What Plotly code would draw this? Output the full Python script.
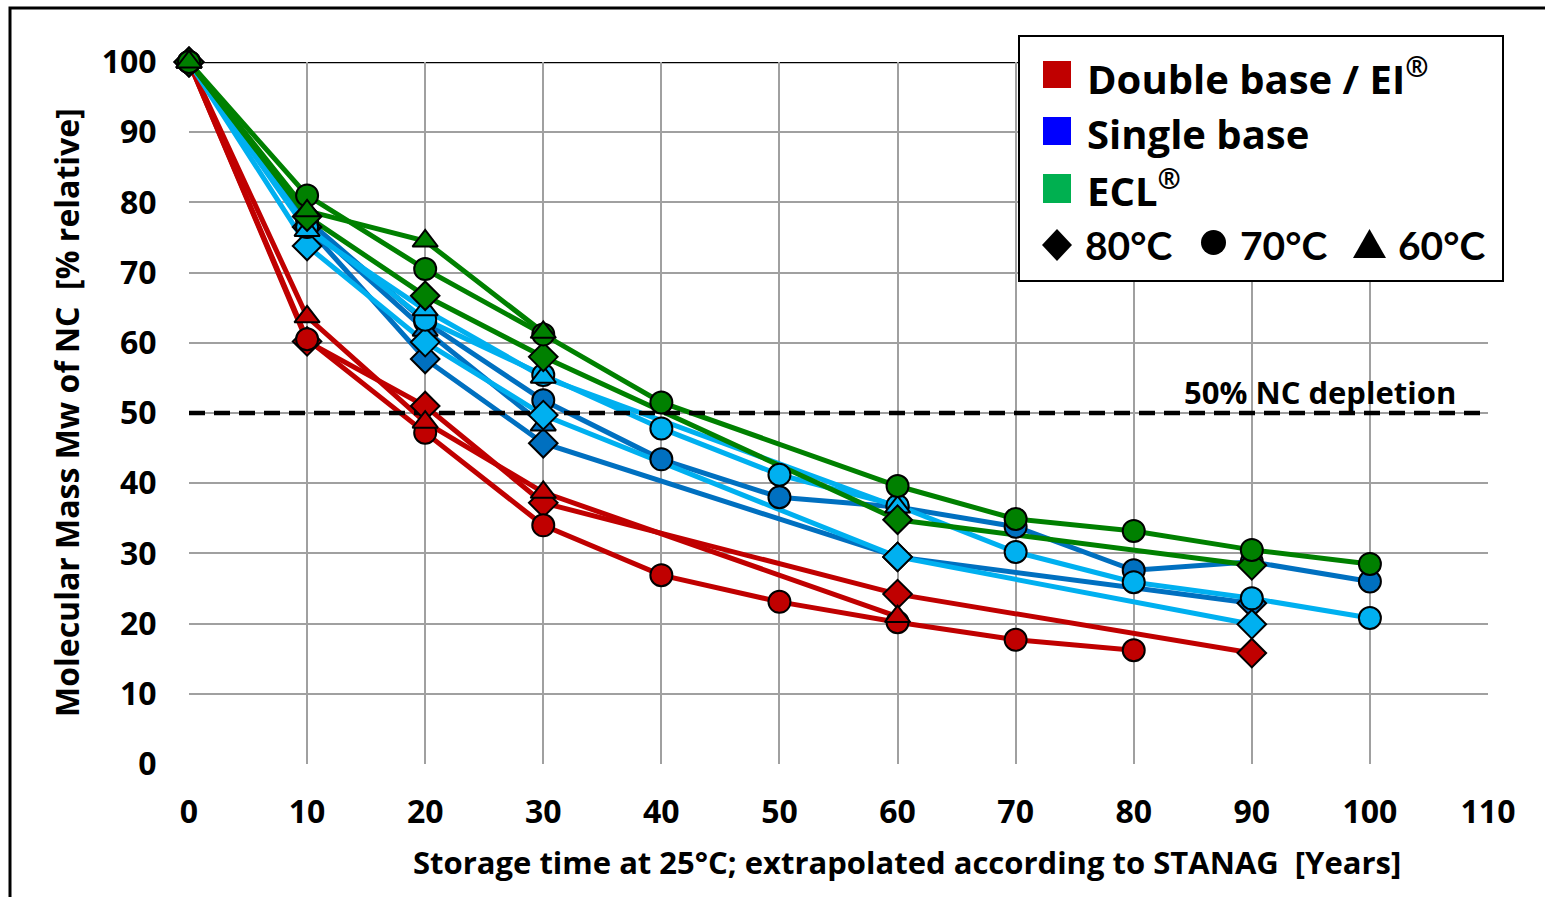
import plotly.graph_objects as go

# ---------------- data ----------------
red_diamond_x = [0, 10, 20, 30, 60, 90]
red_diamond_y = [100, 60.2, 51, 37.2, 24.2, 15.8]
red_circle_x = [0, 10, 20, 30, 40, 50, 60, 70, 80]
red_circle_y = [100, 60.5, 47.2, 34, 26.9, 23.1, 20.2, 17.7, 16.2]
red_triangle_x = [0, 10, 20, 30, 60]
red_triangle_y = [100, 63.7, 48.7, 38.7, 21]

dblue_diamond_x = [0, 10, 20, 30, 60, 90]
dblue_diamond_y = [100, 76.5, 57.7, 45.7, 29.5, 22.9]
dblue_circle_x = [0, 10, 20, 30, 40, 50, 60, 70, 80, 90, 100]
dblue_circle_y = [100, 77.5, 63, 51.8, 43.4, 38, 36.6, 33.8, 27.6, 28.8, 26.0]
dblue_triangle_x = [0, 10, 20, 30]
dblue_triangle_y = [100, 77, 61.8, 48.3]

lblue_diamond_x = [0, 10, 20, 30, 60, 90]
lblue_diamond_y = [100, 73.8, 60.1, 49.7, 29.5, 19.9]
lblue_circle_x = [0, 10, 20, 30, 40, 50, 60, 70, 80, 90, 100]
lblue_circle_y = [100, 76.5, 63.3, 55.4, 47.8, 41.2, 36.8, 30.2, 25.9, 23.6, 20.8]
lblue_triangle_x = [0, 10, 20, 30, 60]
lblue_triangle_y = [100, 76, 64.7, 55.1, 36.6]

green_diamond_x = [0, 10, 20, 30, 60, 90]
green_diamond_y = [100, 78, 66.7, 58, 34.8, 28.3]
green_circle_x = [0, 10, 20, 30, 40, 60, 70, 80, 90, 100]
green_circle_y = [100, 81, 70.5, 61.2, 51.5, 39.6, 34.9, 33.2, 30.5, 28.5]
green_triangle_x = [0, 10, 20, 30]
green_triangle_y = [100, 78.8, 74.5, 61.5]

depletion_level = 50
x_ticks = [0, 10, 20, 30, 40, 50, 60, 70, 80, 90, 100, 110]
y_ticks = [0, 10, 20, 30, 40, 50, 60, 70, 80, 90, 100]

legend_labels = ["Double base / EI<sup>®</sup>", "Single base", "ECL<sup>®</sup>"]
temp_labels = ["80°C", "70°C", "60°C"]

RED = "#C00000"
DBLUE = "#0070C0"
LBLUE = "#00B0F0"
GREEN = "#008000"

series = [
    (red_diamond_x, red_diamond_y, RED, "diamond"),
    (red_circle_x, red_circle_y, RED, "circle"),
    (red_triangle_x, red_triangle_y, RED, "triangle-up"),
    (dblue_diamond_x, dblue_diamond_y, DBLUE, "diamond"),
    (dblue_circle_x, dblue_circle_y, DBLUE, "circle"),
    (dblue_triangle_x, dblue_triangle_y, DBLUE, "triangle-up"),
    (lblue_diamond_x, lblue_diamond_y, LBLUE, "diamond"),
    (lblue_circle_x, lblue_circle_y, LBLUE, "circle"),
    (lblue_triangle_x, lblue_triangle_y, LBLUE, "triangle-up"),
    (green_diamond_x, green_diamond_y, GREEN, "diamond"),
    (green_circle_x, green_circle_y, GREEN, "circle"),
    (green_triangle_x, green_triangle_y, GREEN, "triangle-up"),
]

W, H = 1545, 897
L, R, T, B = 189, 57, 62, 133
PW = W - L - R
PH = H - T - B


def px_x(px):
    return (px - L) / PW


def px_y(py):
    return (H - B - py) / PH


fig = go.Figure()

# lines first
for xs, ys, col, sym in series:
    fig.add_trace(go.Scatter(x=xs, y=ys, mode="lines",
                             line=dict(color=col, width=5),
                             showlegend=False, hoverinfo="skip",
                             cliponaxis=False))

# 50% depletion line
fig.add_trace(go.Scatter(x=[x_ticks[0], x_ticks[-1]],
                         y=[depletion_level, depletion_level],
                         mode="lines",
                         line=dict(color="black", width=4.5, dash="16px,9px"),
                         showlegend=False, hoverinfo="skip"))

# markers on top
for xs, ys, col, sym in series:
    fig.add_trace(go.Scatter(x=xs, y=ys, mode="markers",
                             marker=dict(symbol=sym, size=22, color=col,
                                         line=dict(color="black", width=2)),
                             showlegend=False, cliponaxis=False))

tickfont = dict(family="Open Sans", size=32, color="black", weight="bold")

fig.update_xaxes(range=[0, 110], tickvals=x_ticks, showgrid=True,
                 gridcolor="#A0A0A0", gridwidth=2, zeroline=False,
                 showline=False, ticks="outside", ticklen=20,
                 tickcolor="rgba(0,0,0,0)", tickfont=tickfont)
fig.update_yaxes(range=[0, 100], tickvals=y_ticks, showgrid=True,
                 gridcolor="#A0A0A0", gridwidth=2, zeroline=False,
                 showline=False, ticks="outside", ticklen=25,
                 tickcolor="rgba(0,0,0,0)", tickfont=tickfont)

shapes = []
# top line at 100 (black)
shapes.append(dict(type="line", xref="paper", yref="y", x0=0, x1=1,
                   y0=100, y1=100, line=dict(color="black", width=2.5),
                   layer="below"))
# outer frame
shapes.append(dict(type="rect", xref="paper", yref="paper",
                   x0=px_x(10), x1=px_x(1580), y0=px_y(940), y1=px_y(8),
                   line=dict(color="black", width=3)))
# legend box
shapes.append(dict(type="rect", xref="paper", yref="paper",
                   x0=px_x(1019), x1=px_x(1503), y0=px_y(281), y1=px_y(36),
                   line=dict(color="black", width=2), fillcolor="white",
                   layer="above"))
# legend colour squares
for (c, top, bot) in [(RED, 61, 88), ("#0000FF", 117, 145), ("#00B050", 174, 203)]:
    shapes.append(dict(type="rect", xref="paper", yref="paper",
                       x0=px_x(1043), x1=px_x(1071), y0=px_y(bot), y1=px_y(top),
                       line=dict(width=0), fillcolor=c, layer="above"))
# legend symbols
shapes.append(dict(type="path", xref="paper", yref="paper",
                   path=(f"M {px_x(1042)} {px_y(245)} L {px_x(1057)} {px_y(229)} "
                         f"L {px_x(1072)} {px_y(245)} L {px_x(1057)} {px_y(261)} Z"),
                   fillcolor="black", line=dict(width=0), layer="above"))
shapes.append(dict(type="circle", xref="paper", yref="paper",
                   x0=px_x(1201), x1=px_x(1226), y0=px_y(255), y1=px_y(230),
                   fillcolor="black", line=dict(width=0), layer="above"))
shapes.append(dict(type="path", xref="paper", yref="paper",
                   path=(f"M {px_x(1353)} {px_y(258)} L {px_x(1386)} {px_y(258)} "
                         f"L {px_x(1369.5)} {px_y(229)} Z"),
                   fillcolor="black", line=dict(width=0), layer="above"))

legfont = dict(family="Open Sans", size=40, color="black", weight="bold")
annotations = []
for lab, cy in zip(legend_labels, [76, 134, 189]):
    annotations.append(dict(xref="paper", yref="paper", x=px_x(1085), y=px_y(cy),
                            text=lab, showarrow=False, xanchor="left",
                            yanchor="middle", font=legfont))
tempfont = dict(family="Lato", size=39, color="black", weight="bold")
for lab, lx in zip(temp_labels, [1083, 1238, 1396]):
    annotations.append(dict(xref="paper", yref="paper", x=px_x(lx), y=px_y(245),
                            text=lab, showarrow=False, xanchor="left",
                            yanchor="middle", font=tempfont))

annotations.append(dict(xref="paper", yref="paper", x=px_x(1182), y=px_y(392),
                        text="50% NC depletion", showarrow=False,
                        xanchor="left", yanchor="middle",
                        font=dict(family="Open Sans", size=31, color="black", weight="bold")))
annotations.append(dict(xref="paper", yref="paper", x=px_x(907), y=px_y(862),
                        text="Storage time at 25°C; extrapolated according to STANAG  [Years]",
                        showarrow=False, xanchor="center", yanchor="middle",
                        font=dict(family="Open Sans", size=31, color="black", weight="bold")))
annotations.append(dict(xref="paper", yref="paper", x=px_x(66), y=px_y(413),
                        text="Molecular Mass Mw of NC  [% relative]", textangle=-90,
                        showarrow=False, xanchor="center", yanchor="middle",
                        font=dict(family="Open Sans", size=32, color="black", weight="bold")))

fig.update_layout(width=W, height=H, margin=dict(l=L, r=R, t=T, b=B),
                  paper_bgcolor="white", plot_bgcolor="white",
                  showlegend=False, shapes=shapes, annotations=annotations)

fig.write_html("out.html")
